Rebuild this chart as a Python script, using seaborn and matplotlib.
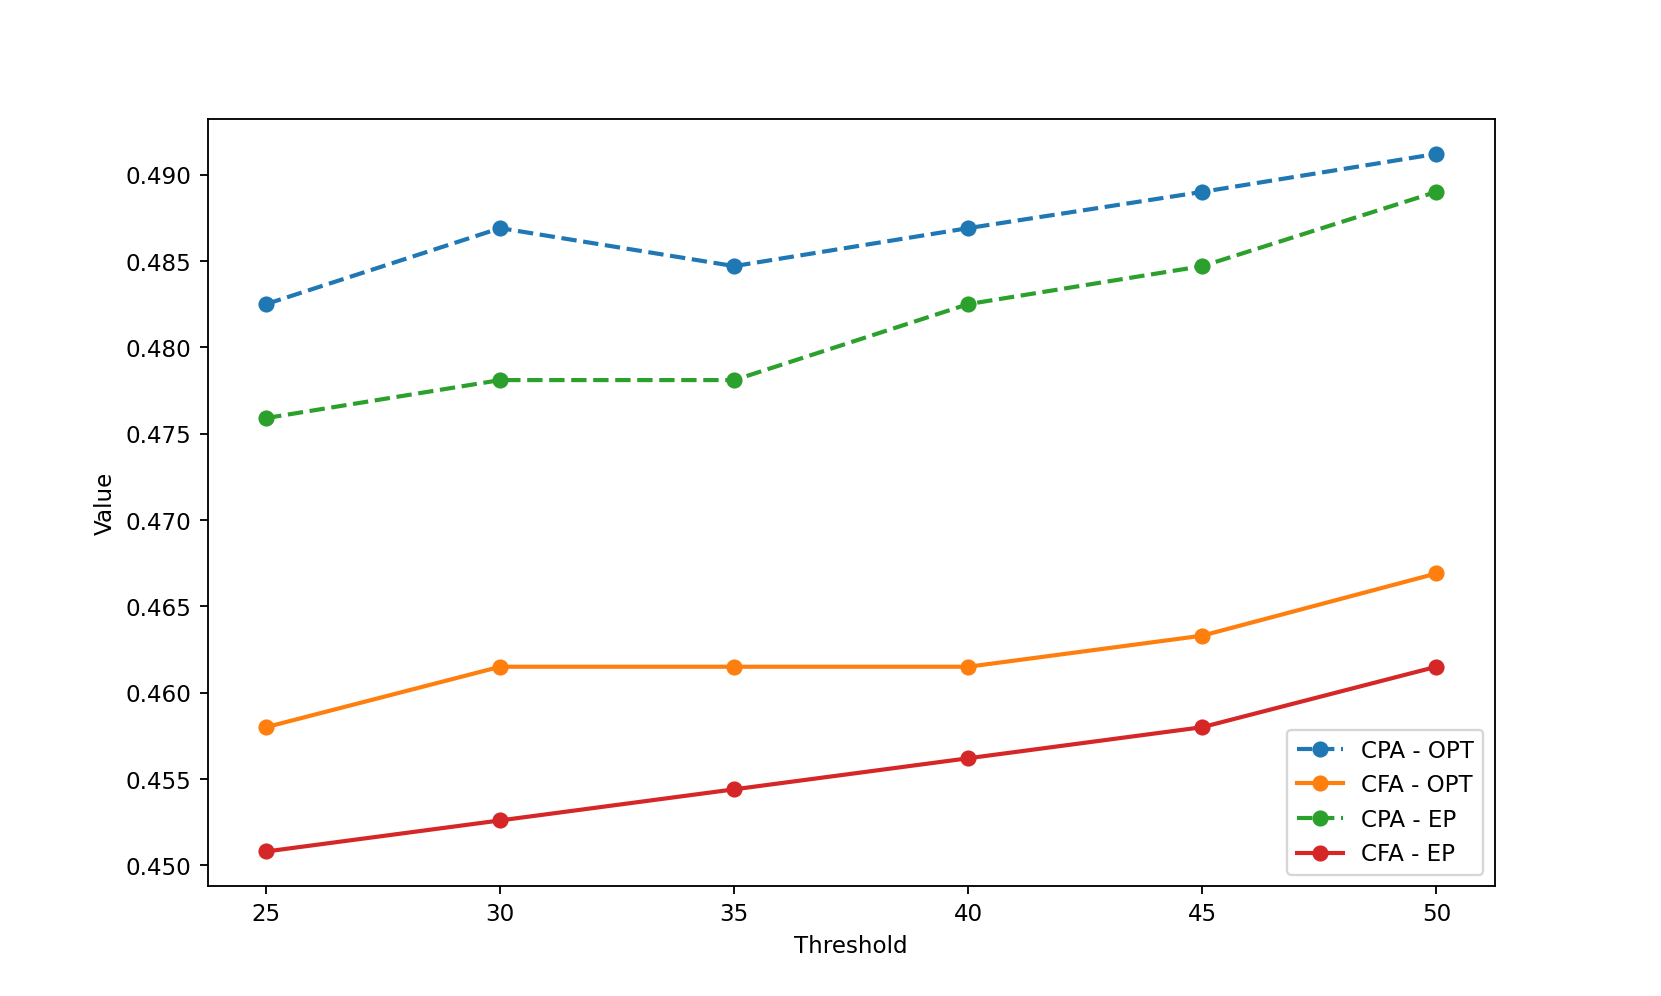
import matplotlib
matplotlib.use('Agg')
import matplotlib.pyplot as plt
import seaborn as sns
import pandas as pd

thresholds = [25, 30, 35, 40, 45, 50]
cpa_opt = [0.4825, 0.4869, 0.4847, 0.4869, 0.4890, 0.4912]
cfa_opt = [0.4580, 0.4615, 0.4615, 0.4615, 0.4633, 0.4669]
cpa_ep = [0.4759, 0.4781, 0.4781, 0.4825, 0.4847, 0.4890]
cfa_ep = [0.4508, 0.4526, 0.4544, 0.4562, 0.4580, 0.4615]

series = {
    'CPA - OPT': (cpa_opt, '#1f77b4', '--'),
    'CFA - OPT': (cfa_opt, '#ff7f0e', '-'),
    'CPA - EP': (cpa_ep, '#2ca02c', '--'),
    'CFA - EP': (cfa_ep, '#d62728', '-'),
}

fig, ax = plt.subplots(figsize=(10, 6), dpi=166.1)
for name, (vals, col, ls) in series.items():
    df = pd.DataFrame({'Threshold': thresholds, 'Value': vals})
    sns.lineplot(data=df, x='Threshold', y='Value', ax=ax, color=col,
                 linestyle=ls, marker='o', markersize=7, markeredgewidth=0,
                 linewidth=1.8, label=name)

ax.set_xticks(thresholds)
ax.set_xlabel('Threshold')
ax.set_ylabel('Value')
ax.legend(loc='lower right')
plt.savefig('out.png', dpi=166.1)
